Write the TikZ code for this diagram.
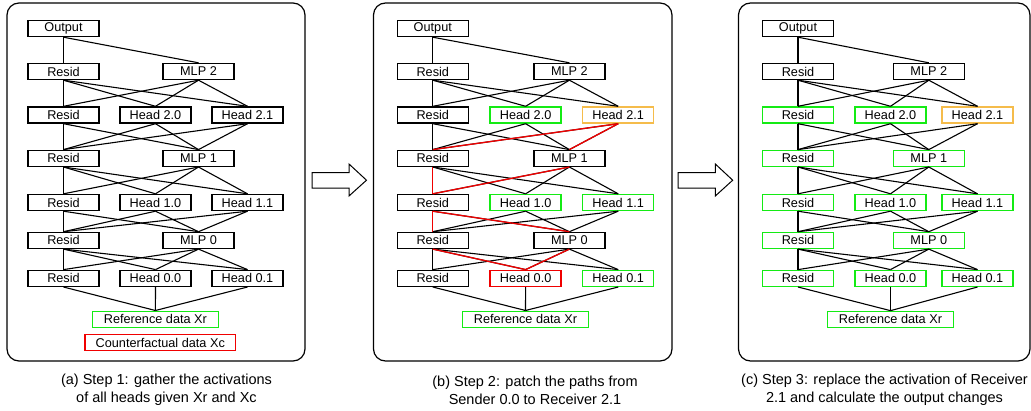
\documentclass[tikz,border=0pt]{standalone}
\usepackage{fontspec}
\setmainfont{Liberation Sans}
\definecolor{bxgreen}{RGB}{20,235,20}
\definecolor{bxorange}{RGB}{245,188,75}
\definecolor{bxred}{RGB}{240,0,0}
\tikzset{
 box/.style={draw=black, line width=1.4pt, fill=white, minimum width=71pt, minimum height=16pt, inner sep=0pt, font=\fontsize{12.7}{14}\selectfont},
 gbox/.style={box, draw=bxgreen},
 obox/.style={box, draw=bxorange},
 rbox/.style={box, draw=bxred},
 link/.style={line width=1.1pt, draw=black},
 rlink/.style={line width=1.3pt, draw=bxred},
 panel/.style={draw, line width=1.2pt, rounded corners=12pt},
 caption/.style={align=center, font=\fontsize{14.5}{18}\selectfont},
 blockarrow/.style={draw, line width=1pt, fill=white, line join=miter},
}
\newcommand\netlinks[1]{%
 \draw[link] (#1-out.south) -- (#1-r2.north);
 \draw[link] (#1-out.south) -- (#1-m2.north);
 \foreach \s in {r2,m2}{\foreach \t in {r3,h20,h21}{\draw[link] (#1-\s.south) -- (#1-\t.north);}}
 \foreach \s in {r3,h20,h21}{\foreach \t in {r4,m1}{\draw[link] (#1-\s.south) -- (#1-\t.north);}}
 \foreach \s in {r4,m1}{\foreach \t in {r5,h10,h11}{\draw[link] (#1-\s.south) -- (#1-\t.north);}}
 \foreach \s in {r5,h10,h11}{\foreach \t in {r6,m0}{\draw[link] (#1-\s.south) -- (#1-\t.north);}}
 \foreach \s in {r6,m0}{\foreach \t in {r7,h00,h01}{\draw[link] (#1-\s.south) -- (#1-\t.north);}}
 \foreach \s in {r7,h00,h01}{\draw[link] (#1-\s.south) -- (#1-ref.north);}
}
\begin{document}
\begin{tikzpicture}[x=1pt,y=-1pt]
\useasboundingbox (0,0) rectangle (1031,410);

% panels
\draw[panel] (7,3) rectangle (305,361);
\draw[panel] (373.5,3) rectangle (672,361);
\draw[panel] (738.5,3) rectangle (1030,361);

% ---------- panel (a) ----------
\node[box] (a-out) at (63.5,28.5) {Output};
\node[box] (a-r2) at (63.5,71.5) {Resid};
\node[box] (a-m2) at (198.5,71.5) {MLP 2};
\node[box] (a-r3) at (63.5,115) {Resid};
\node[box] (a-h20) at (155.5,115) {Head 2.0};
\node[box] (a-h21) at (247.5,115) {Head 2.1};
\node[box] (a-r4) at (63.5,158.3) {Resid};
\node[box] (a-m1) at (198.5,158.3) {MLP 1};
\node[box] (a-r5) at (63.5,202.5) {Resid};
\node[box] (a-h10) at (155.5,202.5) {Head 1.0};
\node[box] (a-h11) at (247.5,202.5) {Head 1.1};
\node[box] (a-r6) at (63.5,240.4) {Resid};
\node[box] (a-m0) at (198.5,240.4) {MLP 0};
\node[box] (a-r7) at (63.5,278.3) {Resid};
\node[box] (a-h00) at (155.5,278.3) {Head 0.0};
\node[box] (a-h01) at (247.5,278.3) {Head 0.1};
\node[gbox, minimum width=126pt] (a-ref) at (155.4,319.2) {Reference data Xr};
\node[rbox, minimum width=150.7pt] (a-cf) at (160.3,342.5) {Counterfactual data Xc};
\netlinks{a}

% ---------- panel (b) ----------
\node[box] (b-out) at (432.8,28.5) {Output};
\node[box] (b-r2) at (432.8,71.5) {Resid};
\node[box] (b-m2) at (569.4,71.5) {MLP 2};
\node[box] (b-r3) at (432.8,115) {Resid};
\node[gbox] (b-h20) at (525.6,115) {Head 2.0};
\node[obox] (b-h21) at (618.2,115) {Head 2.1};
\node[box] (b-r4) at (432.8,158.3) {Resid};
\node[box] (b-m1) at (569.4,158.3) {MLP 1};
\node[box] (b-r5) at (432.8,202.5) {Resid};
\node[gbox] (b-h10) at (525.6,202.5) {Head 1.0};
\node[gbox] (b-h11) at (618.2,202.5) {Head 1.1};
\node[box] (b-r6) at (432.8,240.4) {Resid};
\node[box] (b-m0) at (569.4,240.4) {MLP 0};
\node[box] (b-r7) at (432.8,278.3) {Resid};
\node[rbox] (b-h00) at (525.6,278.3) {Head 0.0};
\node[gbox] (b-h01) at (618.2,278.3) {Head 0.1};
\node[gbox, minimum width=126pt] (b-ref) at (525.5,319.2) {Reference data Xr};
\netlinks{b}
\draw[rlink] (b-h21.south) -- (b-r4.north);
\draw[rlink] (b-h21.south) -- (b-m1.north);
\draw[rlink] (b-r4.south) -- (b-r5.north);
\draw[rlink] (b-m1.south) -- (b-r5.north);
\draw[rlink] (b-r5.south) -- (b-r6.north);
\draw[rlink] (b-r5.south) -- (b-m0.north);
\draw[rlink] (b-r6.south) -- (b-h00.north);
\draw[rlink] (b-m0.south) -- (b-h00.north);

% ---------- panel (c) ----------
\node[box] (c-out) at (798,28.5) {Output};
\node[box] (c-r2) at (798,71.5) {Resid};
\node[box] (c-m2) at (928.8,71.5) {MLP 2};
\node[gbox] (c-r3) at (798,115) {Resid};
\node[gbox] (c-h20) at (890.5,115) {Head 2.0};
\node[obox] (c-h21) at (977.5,115) {Head 2.1};
\node[gbox] (c-r4) at (798,158.3) {Resid};
\node[gbox] (c-m1) at (928.8,158.3) {MLP 1};
\node[gbox] (c-r5) at (798,202.5) {Resid};
\node[gbox] (c-h10) at (890.5,202.5) {Head 1.0};
\node[gbox] (c-h11) at (977.5,202.5) {Head 1.1};
\node[gbox] (c-r6) at (798,240.4) {Resid};
\node[gbox] (c-m0) at (928.8,240.4) {MLP 0};
\node[gbox] (c-r7) at (798,278.3) {Resid};
\node[gbox] (c-h00) at (890.5,278.3) {Head 0.0};
\node[gbox] (c-h01) at (977.5,278.3) {Head 0.1};
\node[gbox, line width=1.5pt, minimum width=126pt] (c-ref) at (890.5,319.4) {Reference data Xr};
\netlinks{c}

% block arrows between panels
\draw[blockarrow] (312,172.5) -- (349,172.5) -- (349,164) -- (366.5,180.2) -- (349,196) -- (349,188) -- (312,188) -- cycle;
\draw[blockarrow] (678,172.5) -- (715.3,172.5) -- (715.3,164) -- (732.7,180.2) -- (715.3,196) -- (715.3,188) -- (678,188) -- cycle;

% captions
\node[caption] (capa) at (166.5,390) {(a) Step 1: gather the activations\\of all heads given Xr and Xc};
\node[caption] (capb) at (535,390) {(b) Step 2: patch the paths from\\Sender 0.0 to Receiver 2.1};
\node[caption] (capc) at (884.5,390) {(c) Step 3: replace the activation of Receiver\\2.1 and calculate the output changes};
\end{tikzpicture}
\end{document}
